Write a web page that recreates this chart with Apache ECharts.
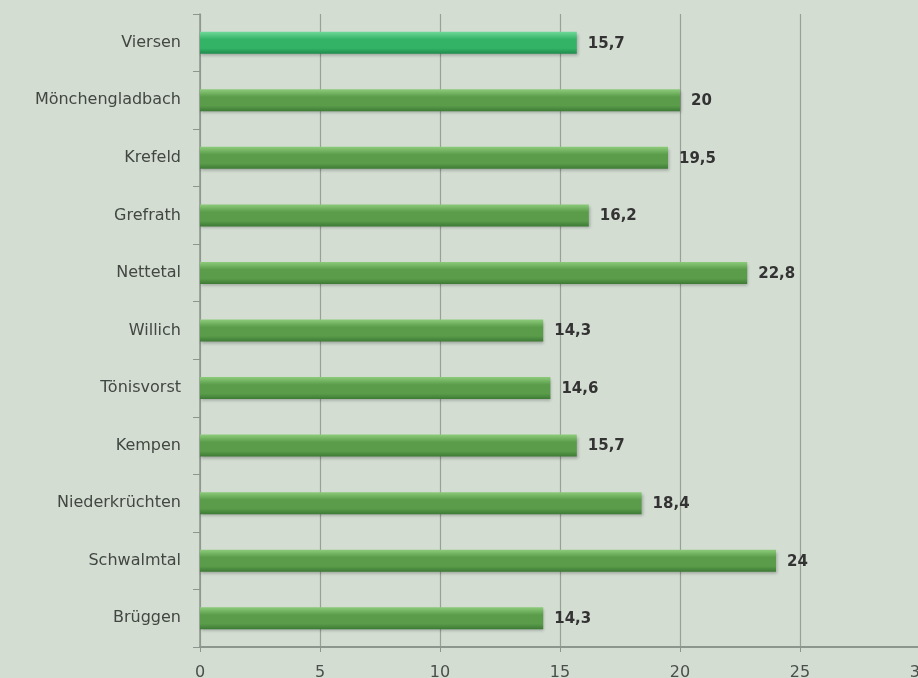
<!DOCTYPE html>
<html>
<head>
<meta charset="utf-8">
<script src="https://cdn.jsdelivr.net/npm/echarts@6/dist/echarts.min.js"></script>
<style>
  html, body { margin: 0; padding: 0; background: #d3ddd2; }
  #chart { width: 918px; height: 678px; }
</style>
</head>
<body>
<div id="chart"></div>
<script>
// Municipalities, top to bottom
const cities = ['Viersen', 'Mönchengladbach', 'Krefeld', 'Grefrath', 'Nettetal', 'Willich',
  'Tönisvorst', 'Kempen', 'Niederkrüchten', 'Schwalmtal', 'Brüggen'];
// Values per municipality
const values = [15.7, 20, 19.5, 16.2, 22.8, 14.3, 14.6, 15.7, 18.4, 24, 14.3];
// Value axis ticks
const xTicks = [0, 5, 10, 15, 20, 25, 30];

const cylinder = (top, mid, bottom) => ({
  type: 'linear', x: 0, y: 0, x2: 0, y2: 1,
  colorStops: [
    { offset: 0, color: top },
    { offset: 0.35, color: mid },
    { offset: 0.75, color: mid },
    { offset: 1, color: bottom }
  ]
});
const greenHighlight = cylinder('#6fd898', '#33b366', '#1f8a4c');
const greenPlain = cylinder('#8ccb7a', '#5a9c4a', '#3d7a35');

const chart = echarts.init(document.getElementById('chart'), null, { renderer: 'canvas' });
chart.setOption({
  backgroundColor: '#d3ddd2',
  animation: false,
  grid: { left: 200, right: -2, top: 14, bottom: 31, containLabel: false, outerBoundsMode: 'none' },
  xAxis: {
    type: 'value',
    min: xTicks[0],
    max: xTicks[xTicks.length - 1],
    interval: 5,
    axisLine: { show: true, lineStyle: { color: '#8c968c', width: 2 } },
    axisTick: { show: true, length: 5, lineStyle: { color: '#8c968c' } },
    splitLine: { show: true, lineStyle: { color: '#97a197', width: 1.2 } },
    axisLabel: {
      margin: 18, color: '#4a4f4a', fontFamily: 'DejaVu Sans', fontSize: 16,
      showMaxLabel: true,
      formatter: v => xTicks.includes(v) ? String(v) : ''
    }
  },
  yAxis: {
    type: 'category',
    data: cities,
    inverse: true,
    axisLine: { show: true, lineStyle: { color: '#8c968c', width: 1.5 } },
    axisTick: { show: true, length: 7, inside: false, lineStyle: { color: '#8c968c' } },
    axisLabel: { margin: 19, color: '#424742', fontFamily: 'DejaVu Sans', fontSize: 16 }
  },
  series: [{
    type: 'bar',
    data: values.map((v, i) => ({
      value: v,
      itemStyle: { color: i === 0 ? greenHighlight : greenPlain }
    })),
    barWidth: 22,
    itemStyle: {
      shadowColor: 'rgba(0,0,0,0.25)', shadowBlur: 3, shadowOffsetY: 2, shadowOffsetX: 1
    },
    label: {
      show: true, position: 'right', distance: 11, offset: [0, 1],
      color: '#333', fontFamily: 'DejaVu Sans', fontWeight: 'bold', fontSize: 15,
      formatter: p => String(p.value).replace('.', ',')
    }
  }]
});
</script>
</body>
</html>
